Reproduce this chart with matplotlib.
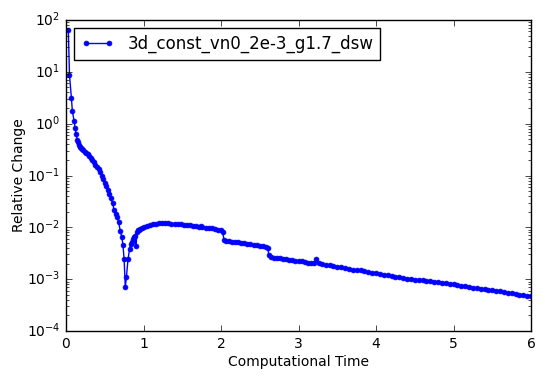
import matplotlib
matplotlib.use("Agg")
import matplotlib.pyplot as plt

plt.style.use("classic")
plt.rcParams["font.family"] = ["DejaVu Sans"]

label = "3d_const_vn0_2e-3_g1.7_dsw"

time = [0.03, 0.045, 0.07, 0.082, 0.105, 0.118, 0.132, 0.146,
        0.16, 0.17, 0.18, 0.19, 0.20, 0.22, 0.24, 0.26, 0.28, 0.30,
        0.32, 0.34, 0.36, 0.38, 0.40, 0.42, 0.44, 0.46, 0.48, 0.50,
        0.52, 0.54, 0.56, 0.58, 0.60, 0.62, 0.64, 0.66, 0.68, 0.70,
        0.72, 0.735, 0.75, 0.765, 0.78, 0.80, 0.82, 0.835, 0.85, 0.865,
        0.88, 0.895, 0.905, 0.915, 0.93, 0.94, 0.96, 0.98, 1.00,
        1.04, 1.08, 1.12, 1.16, 1.20, 1.24, 1.28, 1.32, 1.36, 1.40,
        1.44, 1.48, 1.52, 1.56, 1.60, 1.64, 1.68, 1.72, 1.74, 1.76,
        1.80, 1.84, 1.88, 1.92, 1.96, 2.00, 2.02, 2.04, 2.06, 2.10,
        2.14, 2.18, 2.22, 2.26, 2.30, 2.34, 2.38, 2.42, 2.46, 2.50,
        2.54, 2.58, 2.60, 2.62, 2.64, 2.68, 2.72, 2.76, 2.80, 2.84,
        2.88, 2.92, 2.96, 3.00, 3.04, 3.08, 3.12, 3.16, 3.20, 3.23,
        3.26, 3.30, 3.35, 3.40, 3.45, 3.50, 3.55, 3.60, 3.65, 3.70,
        3.75, 3.80, 3.85, 3.90, 3.95, 4.00, 4.05, 4.10, 4.15, 4.20,
        4.25, 4.30, 4.35, 4.40, 4.45, 4.50, 4.55, 4.60, 4.65, 4.70,
        4.75, 4.80, 4.85, 4.90, 4.95, 5.00, 5.05, 5.10, 5.15, 5.20,
        5.25, 5.30, 5.35, 5.40, 5.45, 5.50, 5.55, 5.60, 5.65, 5.70,
        5.75, 5.80, 5.85, 5.90, 5.95, 6.00]

change = [64, 8.7, 3.1, 1.75, 1.12, 0.81, 0.62, 0.48,
          0.45, 0.39, 0.36, 0.34, 0.325, 0.31, 0.29, 0.275, 0.258, 0.24,
          0.222, 0.2, 0.18, 0.163, 0.148, 0.133, 0.116, 0.1, 0.085, 0.072,
          0.062, 0.053, 0.044, 0.036, 0.029, 0.022, 0.018, 0.0155, 0.0125, 0.0085,
          0.0065, 0.0045, 0.0024, 0.0007, 0.00112, 0.0024, 0.0038, 0.0048, 0.0053, 0.0059,
          0.0065, 0.0068, 0.0044, 0.0082, 0.0087, 0.0090, 0.0094, 0.0097, 0.0100,
          0.0105, 0.0110, 0.0114, 0.0117, 0.0119, 0.0120, 0.0120, 0.0119, 0.0118, 0.0117,
          0.0116, 0.0115, 0.0113, 0.0111, 0.0109, 0.0107, 0.0105, 0.0103, 0.0106, 0.0101,
          0.0099, 0.0097, 0.0095, 0.0092, 0.0090, 0.0088, 0.0080, 0.0058, 0.0055, 0.0054,
          0.0053, 0.0052, 0.0051, 0.0050, 0.0049, 0.0048, 0.0047, 0.0046, 0.0045, 0.0044,
          0.0043, 0.0042, 0.0040, 0.0029, 0.0027, 0.0026, 0.00258, 0.00254, 0.00249, 0.00244,
          0.00239, 0.00233, 0.00229, 0.00225, 0.00220, 0.00214, 0.00209, 0.00205, 0.00201, 0.00240,
          0.00203, 0.00196, 0.00191, 0.00186, 0.00180, 0.00175, 0.00168, 0.00162, 0.00157, 0.00153,
          0.00150, 0.00147, 0.00142, 0.00138, 0.00134, 0.00130, 0.00125, 0.00121, 0.00118, 0.00115,
          0.00112, 0.00109, 0.00106, 0.00103, 0.00100, 0.00098, 0.00096, 0.00095, 0.00094, 0.00093,
          0.00090, 0.00087, 0.00085, 0.00083, 0.00081, 0.00079, 0.00077, 0.00075, 0.00073, 0.00071,
          0.00069, 0.00068, 0.00066, 0.00064, 0.00063, 0.00062, 0.00060, 0.00058, 0.00056, 0.00055,
          0.00053, 0.00052, 0.00050, 0.00049, 0.00048, 0.00047]

fig = plt.figure(figsize=(5.45, 3.8), dpi=100, facecolor="white")
ax = fig.add_axes([66 / 545, 49 / 380, 465 / 545, 311 / 380])
ax.plot(time, change, color="b", marker=".", markersize=7, linewidth=1.0,
        markeredgecolor="b", label=label)
ax.set_yscale("log")
ax.set_xlim(0, 6)
ax.set_ylim(1e-4, 1e2)
ax.set_xlabel("Computational Time", fontsize=10, labelpad=3)
ax.set_ylabel("Relative Change", fontsize=10, labelpad=1)
ax.tick_params(labelsize=10)
leg = ax.legend(loc="upper left", fontsize=12, numpoints=2, borderaxespad=0.5)
fig.savefig("out.png", dpi=100, facecolor="white")
